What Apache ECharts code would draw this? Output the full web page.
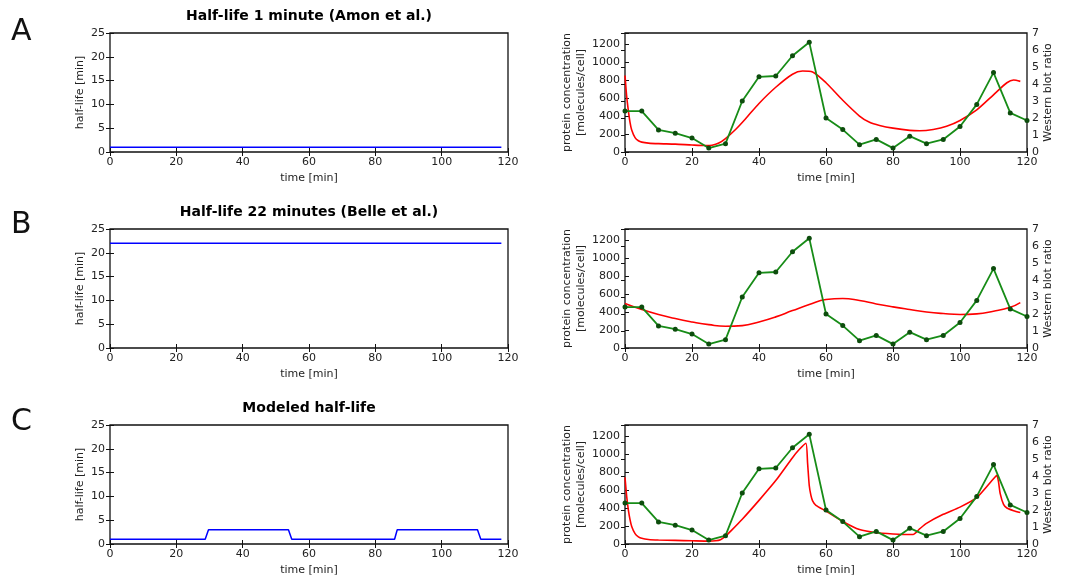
<!DOCTYPE html>
<html>
<head>
<meta charset="utf-8">
<script src="https://cdn.jsdelivr.net/npm/echarts@6/dist/echarts.min.js"></script>
<style>
html, body { margin: 0; padding: 0; background: #fff; }
#main { width: 1075px; height: 583px; }
</style>
</head>
<body>
<div id="main"></div>
<script>
// western blot measurements (same in all three panels)
var blotTime = [0, 5, 10, 15, 20, 25, 30, 35, 40, 45, 50, 55, 60, 65, 70, 75, 80, 85, 90, 95, 100, 105, 110, 115, 120];
var blotRatio = [2.41, 2.41, 1.30, 1.11, 0.82, 0.23, 0.49, 3.00, 4.42, 4.47, 5.66, 6.46, 2.00, 1.32, 0.43, 0.74, 0.23, 0.93, 0.49, 0.74, 1.50, 2.80, 4.67, 2.30, 1.85];

// half-life curves
var hlTimeA = [0, 118];
var hlA = [1, 1];
var hlTimeB = [0, 118];
var hlB = [22, 22];
var hlTimeC = [0, 28.7, 29.7, 53.8, 54.8, 85.8, 86.6, 110.8, 111.8, 118];
var hlC = [1, 1, 3, 3, 1, 1, 3, 3, 1, 1];

// simulated protein concentration
var concTimeA = [0, 0.5, 1, 1.5, 2, 3, 4, 5, 7, 10, 15, 20, 24, 26, 28, 30, 33, 36, 40, 45, 50, 53, 56, 60, 65, 70, 73, 76, 80, 85, 88, 92, 96, 100, 105, 110, 114, 116, 118];
var concA = [850, 620, 460, 330, 245, 160, 125, 110, 99, 93, 88, 78, 72, 76, 100, 150, 250, 370, 540, 720, 865, 900, 890, 770, 575, 400, 330, 295, 265, 240, 236, 250, 285, 350, 468, 636, 770, 800, 785];
var concTimeB = [0, 5, 10, 15, 20, 25, 30, 35, 40, 45, 50, 55, 60, 65, 70, 75, 80, 85, 90, 95, 100, 105, 110, 115, 118];
var concB = [495, 428, 372, 327, 290, 260, 242, 249, 290, 346, 416, 483, 539, 550, 528, 490, 457, 428, 401, 383, 372, 379, 409, 453, 505];
var concTimeC = [0, 0.5, 1, 1.5, 2, 3, 4, 5, 7, 10, 15, 20, 25, 27, 28.5, 30, 32, 35, 40, 45, 50, 52, 54, 54.5, 55, 55.5, 56, 57, 60, 65, 70, 75, 80, 85, 86, 88, 90, 95, 100, 105, 110, 111, 111.5, 112, 113, 114, 116, 118];
var concC = [740, 530, 380, 270, 195, 115, 80, 63, 50, 44, 40, 36, 32, 36, 48, 88, 160, 275, 485, 705, 960, 1050, 1120, 900, 650, 540, 480, 430, 365, 250, 160, 125, 112, 105, 105, 170, 230, 330, 410, 515, 725, 765, 690, 560, 440, 400, 370, 350];

var titles = ['Half-life 1 minute (Amon et al.)', 'Half-life 22 minutes (Belle et al.)', 'Modeled half-life'];
var panelLetters = ['A', 'B', 'C'];

var font = 'DejaVu Sans';
var txt = { color: '#222', fontSize: 11, fontFamily: font };
var rowTop = [33, 229, 425];
var plotH = 119;

function pairs(xs, ys) {
	var out = [];
	for(var i = 0; i < xs.length; i++) {
		out.push([xs[i], ys[i]]);
	}
	return out;
}

var tick = { show: true, inside: true, length: 4, lineStyle: { color: '#111', width: 1 } };

var grids = [], xAxes = [], yAxes = [];
for(var r = 0; r < 3; r++) {
	grids.push({ left: 110, top: rowTop[r], width: 398, height: plotH, show: true, borderColor: '#111', borderWidth: 1.3, outerBoundsMode: 'none' });
	grids.push({ left: 625, top: rowTop[r], width: 402, height: plotH, show: true, borderColor: '#111', borderWidth: 1.3, outerBoundsMode: 'none' });
}
for(var g = 0; g < 6; g++) {
	xAxes.push({
		type: 'value', gridIndex: g, position: 'bottom', min: 0, max: 120, interval: 20,
		axisLine: { show: false }, splitLine: { show: false }, axisTick: tick,
		axisLabel: { margin: 5, color: txt.color, fontSize: 11, fontFamily: font },
		name: 'time [min]', nameLocation: 'middle', nameGap: 21, nameTextStyle: txt
	});
	xAxes.push({
		type: 'value', gridIndex: g, position: 'top', min: 0, max: 120, interval: 20,
		axisLine: { show: false }, splitLine: { show: false }, axisTick: tick, axisLabel: { show: false }
	});
	if(g % 2 == 0) {
		yAxes.push({
			type: 'value', gridIndex: g, position: 'left', min: 0, max: 25, interval: 5,
			axisLine: { show: false }, splitLine: { show: false }, axisTick: tick,
			axisLabel: { margin: 5, color: txt.color, fontSize: 11, fontFamily: font },
			name: 'half-life [min]', nameLocation: 'middle', nameGap: 24, nameTextStyle: txt
		});
		yAxes.push({
			type: 'value', gridIndex: g, position: 'right', min: 0, max: 25, interval: 5,
			axisLine: { show: false }, splitLine: { show: false }, axisTick: tick, axisLabel: { show: false }
		});
	} else {
		yAxes.push({
			type: 'value', gridIndex: g, position: 'left', min: 0, max: 1323, interval: 200,
			axisLine: { show: false }, splitLine: { show: false }, axisTick: tick,
			axisLabel: {
				margin: 5, color: txt.color, fontSize: 11, fontFamily: font,
				formatter: function(v) { return v % 200 == 0 ? v : ''; }
			},
			name: 'protein concentration\n[molecules/cell]', nameLocation: 'middle', nameGap: 34,
			nameTextStyle: { color: txt.color, fontSize: 11, fontFamily: font, lineHeight: 14 }
		});
		yAxes.push({
			type: 'value', gridIndex: g, position: 'right', min: 0, max: 7, interval: 1,
			axisLine: { show: false }, splitLine: { show: false }, axisTick: tick,
			axisLabel: { margin: 5, color: txt.color, fontSize: 11, fontFamily: font },
			name: 'Western blot ratio', nameLocation: 'middle', nameGap: 15, nameRotate: 90, nameTextStyle: txt
		});
	}
}

function blue(idx, xs, ys) {
	return { type: 'line', xAxisIndex: idx * 2, yAxisIndex: idx * 2, data: pairs(xs, ys), showSymbol: false,
		lineStyle: { color: '#0000ff', width: 1.5 }, itemStyle: { color: '#0000ff' } };
}
function red(idx, xs, ys, sm) {
	return { type: 'line', xAxisIndex: idx * 2, yAxisIndex: idx * 2, data: pairs(xs, ys), showSymbol: false,
		smooth: sm, lineStyle: { color: '#ff0000', width: 1.6 }, itemStyle: { color: '#ff0000' } };
}
function green(idx) {
	return { type: 'line', xAxisIndex: idx * 2, yAxisIndex: idx * 2 + 1, data: pairs(blotTime, blotRatio),
		symbol: 'circle', symbolSize: 5, lineStyle: { color: '#178c17', width: 1.8 }, itemStyle: { color: '#0d4d0d' } };
}

var series = [
	blue(0, hlTimeA, hlA), red(1, concTimeA, concA, 0.25), green(1),
	blue(2, hlTimeB, hlB), red(3, concTimeB, concB, 0.5), green(3),
	blue(4, hlTimeC, hlC), red(5, concTimeC, concC, 0.2), green(5)
];

var titleTops = [9, 205, 401];
var titleList = [];
var graphics = [];
var letterY = [32, 225, 422];
for(var k = 0; k < 3; k++) {
	titleList.push({ text: titles[k], left: 309, top: titleTops[k], textAlign: 'center', padding: 0,
		textStyle: { fontSize: 14, fontWeight: 'bold', fontFamily: font, color: '#000' } });
	graphics.push({ type: 'text', x: 11, y: letterY[k],
		style: { text: panelLetters[k], fontSize: 30, fontFamily: font, fill: '#111', verticalAlign: 'middle' } });
}

var chart = echarts.init(document.getElementById('main'));
chart.setOption({
	animation: false,
	backgroundColor: '#fff',
	title: titleList,
	graphic: graphics,
	grid: grids,
	xAxis: xAxes,
	yAxis: yAxes,
	series: series
});
</script>
</body>
</html>
